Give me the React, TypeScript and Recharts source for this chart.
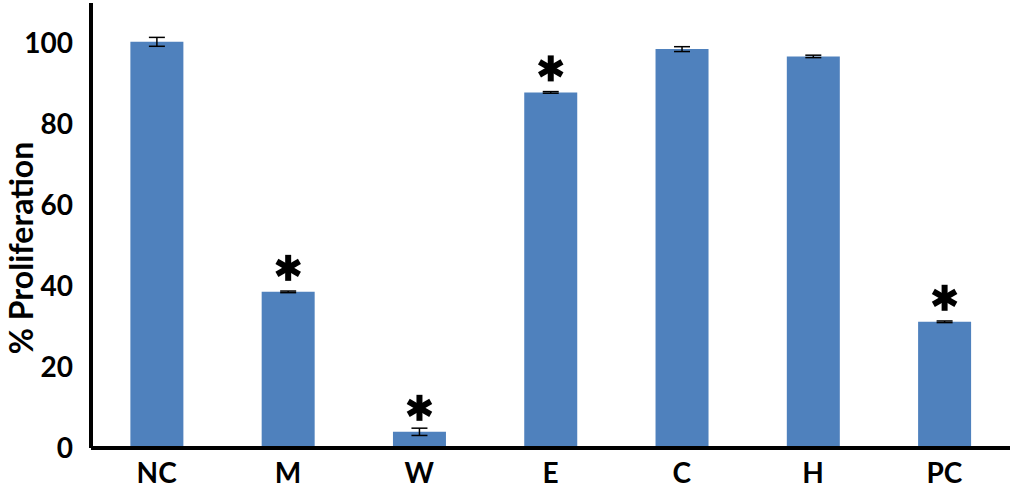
import React from 'react';
import { BarChart, Bar, XAxis, YAxis, ErrorBar, LabelList } from 'recharts';

const categories = ['NC', 'M', 'W', 'E', 'C', 'H', 'PC'];
const proliferation = [100.4, 38.6, 4.0, 87.9, 98.6, 96.8, 31.2];
const errors = [1.1, 0.2, 0.9, 0.2, 0.6, 0.3, 0.2];
const significant = [false, true, true, true, false, false, true];
const yTicks = [0, 20, 40, 60, 80, 100];

const data = categories.map((name, i) => ({
  name,
  value: proliferation[i],
  err: errors[i],
  star: significant[i] ? 1 : 0,
}));

const FONT = 'Lato, "Open Sans", sans-serif';

// six-armed asterisk drawn above the bars marked significant
const Star = (props: any) => {
  const { x, y, width, value } = props;
  if (!value) return null;
  const cx = x + width / 2;
  const cy = y - 24;
  const r = 13;
  return (
    <g stroke="#000" strokeWidth={6}>
      {[90, 30, -30].map((a) => {
        const dx = r * Math.cos((a * Math.PI) / 180);
        const dy = r * Math.sin((a * Math.PI) / 180);
        return <line key={a} x1={cx - dx} y1={cy - dy} x2={cx + dx} y2={cy + dy} />;
      })}
    </g>
  );
};

export default function App() {
  return (
    <div style={{ position: 'absolute', left: 0, top: 0, background: '#fff' }}>
      <BarChart
        width={1013}
        height={489}
        data={data}
        margin={{ top: 3, right: 3, bottom: 0, left: 0 }}
        barCategoryGap="30%"
      >
        <XAxis
          dataKey="name"
          height={41}
          axisLine={{ stroke: '#000', strokeWidth: 4 }}
          tickLine={false}
          tickSize={6}
          tickMargin={9}
          interval={0}
          tick={{ fill: '#000', fontSize: 28, fontWeight: 700, fontFamily: FONT }}
        />
        <YAxis
          width={91}
          domain={[0, 110]}
          ticks={yTicks}
          axisLine={{ stroke: '#000', strokeWidth: 4 }}
          tickLine={false}
          tickSize={6}
          tickMargin={12}
          tick={{ fill: '#000', fontSize: 28, fontWeight: 700, fontFamily: FONT }}
          label={{
            content: () => (
              <text
                x={20}
                y={248}
                transform="rotate(-90 20 248)"
                textAnchor="middle"
                dominantBaseline="central"
                fontFamily={FONT}
                fontWeight={700}
                fontSize={32}
                fill="#000"
              >
                % Proliferation
              </text>
            ),
          }}
        />
        <Bar dataKey="value" fill="#4F81BD" isAnimationActive={false}>
          <ErrorBar dataKey="err" width={8} stroke="#000" strokeWidth={1.5} />
          <LabelList dataKey="star" content={Star} />
        </Bar>
      </BarChart>
    </div>
  );
}
